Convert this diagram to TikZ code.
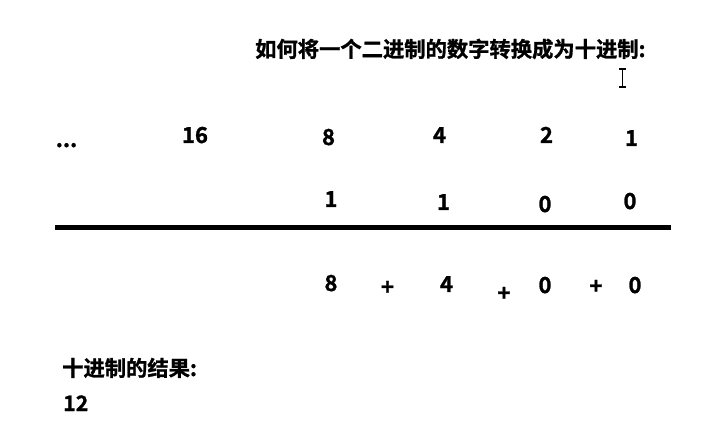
\documentclass[tikz,border=0pt]{standalone}
\usepackage{fontspec}
\setmainfont{Noto Sans CJK SC}[BoldFont={Noto Sans CJK SC Bold},BoldFeatures={FakeBold=1.2}]
\begin{document}
\begin{tikzpicture}[x=1pt,y=-1pt,
  txt/.style={font=\bfseries\fontsize{22}{26}\selectfont, inner sep=0pt, anchor=base},
  lft/.style={font=\bfseries\fontsize{21.3}{26}\selectfont, inner sep=0pt, anchor=base west},
  rule/.style={line width=5pt},
  beam/.style={line width=1.6pt}]
\useasboundingbox[fill=white] (0,0) rectangle (709,427);
% title
\node[lft] (title) at (255,57) {如何将一个二进制的数字转换成为十进制:};
% cursor
\coordinate (c1) at (622.5,69);
\coordinate (c2) at (622.5,87);
\draw[beam] (c1) -- (c2);
\draw[beam] ([xshift=-3.5pt]c1) -- ([xshift=3.5pt]c1);
\draw[beam] ([xshift=-3.5pt]c2) -- ([xshift=3.5pt]c2);
% weights
\node[txt] (dots) at (66.5,147) {...};
\node[txt] (w16) at (195,143) {16};
\node[txt] (w8) at (328.5,145) {8};
\node[txt] (w4) at (439.5,143) {4};
\node[txt] (w2) at (546.5,143) {2};
\node[txt] (w1) at (631.5,146) {1};
% bits
\node[txt] (b8) at (331,207) {1};
\node[txt] (b4) at (443.5,210) {1};
\node[txt] (b2) at (545,212) {0};
\node[txt] (b1) at (630,209) {0};
% rule
\coordinate (la) at (55,227.5);
\coordinate (lb) at (671,227.5);
\draw[rule] (la) -- (lb);
% sum
\node[txt] (s8) at (331,291) {8};
\node[txt] (p1) at (387.5,295) {+};
\node[txt] (s4) at (446.5,292) {4};
\node[txt] (p2) at (504,301) {+};
\node[txt] (s2) at (545,293) {0};
\node[txt] (p3) at (596,294) {+};
\node[txt] (s1) at (635,293) {0};
% result
\node[lft] (rlabel) at (62,376) {十进制的结果:};
\node[lft] (res) at (63,411) {12};
\end{tikzpicture}
\end{document}
